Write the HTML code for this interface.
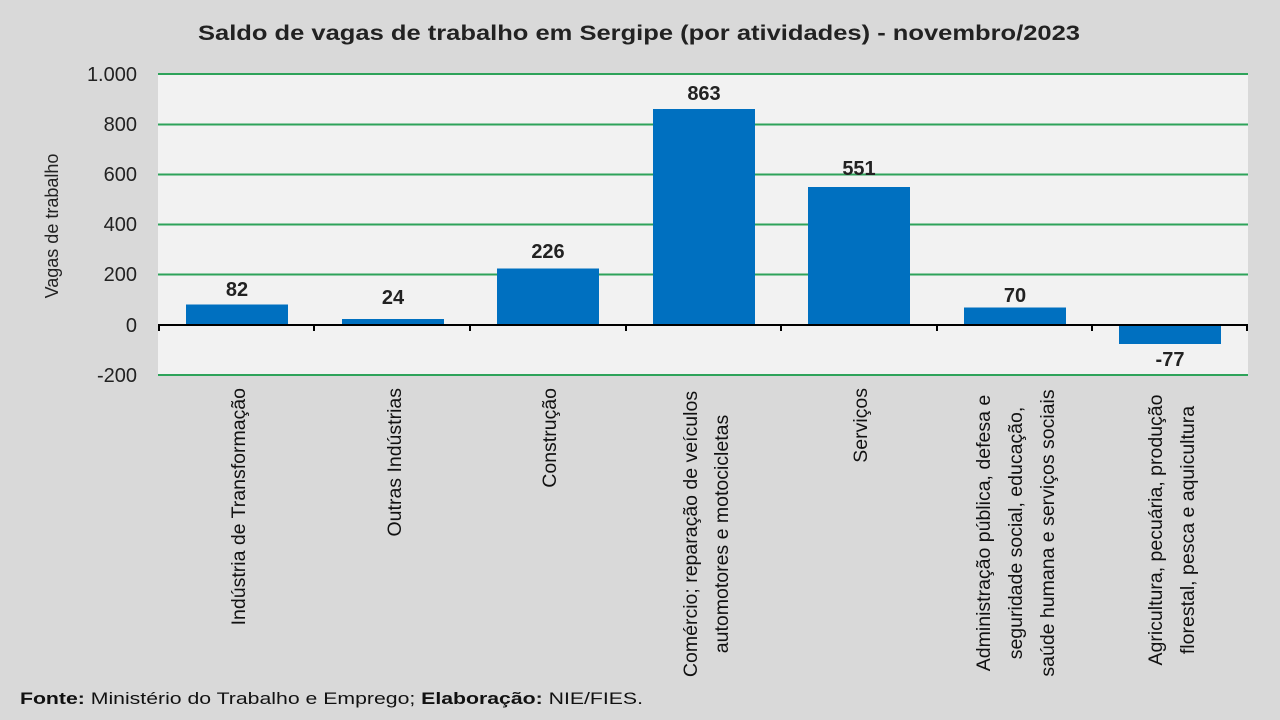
<!DOCTYPE html>
<html><head><meta charset="utf-8"><style>
html,body{margin:0;padding:0;background:#d9d9d9;}
svg{display:block;font-family:"Liberation Sans",sans-serif;}
</style></head><body>
<svg width="1280" height="720" viewBox="0 0 1280 720">
<rect width="1280" height="720" fill="#d9d9d9"/>
<text x="198" y="40" font-size="21" font-weight="bold" fill="#222" textLength="882" lengthAdjust="spacingAndGlyphs">Saldo de vagas de trabalho em Sergipe (por atividades) - novembro/2023</text>
<rect x="158" y="74" width="1090" height="301" fill="#f2f2f2"/>
<g stroke="#2ea35a" stroke-width="2">
<line x1="158" x2="1248" y1="74" y2="74"/>
<line x1="158" x2="1248" y1="124.5" y2="124.5"/>
<line x1="158" x2="1248" y1="174.5" y2="174.5"/>
<line x1="158" x2="1248" y1="224.5" y2="224.5"/>
<line x1="158" x2="1248" y1="274.5" y2="274.5"/>
<line x1="158" x2="1248" y1="375" y2="375"/>
</g>
<g font-size="20" fill="#222" text-anchor="end">
<text x="137" y="81">1.000</text>
<text x="137" y="131">800</text>
<text x="137" y="181">600</text>
<text x="137" y="231">400</text>
<text x="137" y="281">200</text>
<text x="137" y="332">0</text>
<text x="137" y="382">-200</text>
</g>
<text transform="translate(58,226) rotate(-90)" text-anchor="middle" font-size="18" fill="#222">Vagas de trabalho</text>
<g fill="#0070c0">
<rect x="186" y="304.5" width="102" height="20.5"/>
<rect x="342" y="319" width="102" height="6"/>
<rect x="497" y="268.5" width="102" height="56.5"/>
<rect x="653" y="109" width="102" height="216"/>
<rect x="808" y="187" width="102" height="138"/>
<rect x="964" y="307.5" width="102" height="17.5"/>
<rect x="1119" y="325" width="102" height="19"/>
</g>
<g stroke="#000" stroke-width="2">
<line x1="158" x2="1248" y1="325" y2="325"/>
<line x1="159" x2="159" y1="325" y2="331"/>
<line x1="314" x2="314" y1="325" y2="331"/>
<line x1="470" x2="470" y1="325" y2="331"/>
<line x1="626" x2="626" y1="325" y2="331"/>
<line x1="781" x2="781" y1="325" y2="331"/>
<line x1="937" x2="937" y1="325" y2="331"/>
<line x1="1092" x2="1092" y1="325" y2="331"/>
<line x1="1247" x2="1247" y1="325" y2="331"/>
</g>
<g font-size="20" font-weight="bold" fill="#222" text-anchor="middle">
<text x="237" y="296">82</text>
<text x="393" y="304">24</text>
<text x="548" y="258">226</text>
<text x="704" y="100">863</text>
<text x="859" y="175">551</text>
<text x="1015" y="302">70</text>
<text x="1170" y="366">-77</text>
</g>
<g font-size="19.5" fill="#111">
<text transform="translate(245,388) rotate(-90)" text-anchor="end">Indústria de Transformação</text>
<text transform="translate(401,388) rotate(-90)" text-anchor="end">Outras Indústrias</text>
<text transform="translate(556,388) rotate(-90)" text-anchor="end">Construção</text>
<text transform="translate(697,534) rotate(-90)" text-anchor="middle">Comércio; reparação de veículos</text>
<text transform="translate(728,534) rotate(-90)" text-anchor="middle">automotores e motocicletas</text>
<text transform="translate(867,388) rotate(-90)" text-anchor="end">Serviços</text>
<text transform="translate(990,533) rotate(-90)" text-anchor="middle">Administração pública, defesa e</text>
<text transform="translate(1022,533) rotate(-90)" text-anchor="middle">seguridade social, educação,</text>
<text transform="translate(1054,533) rotate(-90)" text-anchor="middle">saúde humana e serviços sociais</text>
<text transform="translate(1162,530) rotate(-90)" text-anchor="middle">Agricultura, pecuária, produção</text>
<text transform="translate(1194,530) rotate(-90)" text-anchor="middle">florestal, pesca e aquicultura</text>
</g>
<text x="20" y="704" font-size="17" fill="#111" textLength="623" lengthAdjust="spacingAndGlyphs"><tspan font-weight="bold">Fonte:</tspan> Ministério do Trabalho e Emprego; <tspan font-weight="bold">Elaboração:</tspan> NIE/FIES.</text>
</svg>
</body></html>
